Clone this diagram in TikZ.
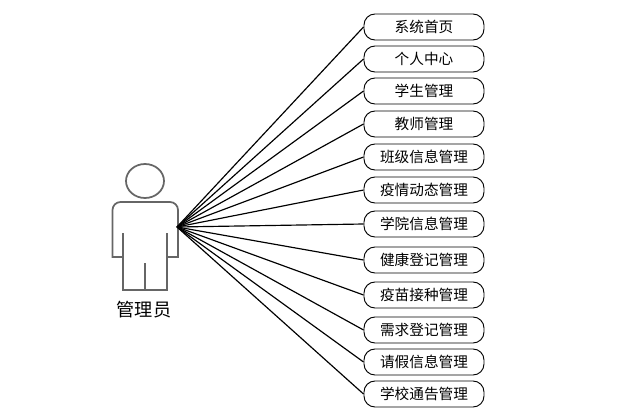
\documentclass[tikz,border=0pt]{standalone}
\usepackage{fontspec}
\setmainfont{Noto Sans CJK SC}
\usetikzlibrary{positioning}
\definecolor{actorgray}{HTML}{666666}
\tikzset{
    funcbox/.style={draw=black, thick, rounded corners=0.33cm, minimum width=3.6cm, minimum height=0.78cm, inner sep=0pt, font=\fontsize{12.5}{14}\selectfont},
    actorline/.style={draw=actorgray, line width=1.5pt},
    assocline/.style={draw=black, line width=1pt}
}

\begin{document}
\begin{tikzpicture}[x=0.03cm, y=-0.03cm]

            % Page frame
            \useasboundingbox (0,0) rectangle (644,419);

            % 1. Actor (Head and Body)
            \draw[actorline] (145,181) ellipse (19 and 17);
            \draw[actorline] (123,257) -- (112.5,257) [rounded corners=0.24cm] -- (112.5,202) -- (178,202) [sharp corners] -- (178,257) -- (167,257);
            \draw[actorline] (123,233) -- (123,290) -- (167,290) -- (167,233);
            \draw[actorline] (145,263) -- (145,290);
            \node[font=\fontsize{15.5}{18}\selectfont] (actorlabel) at (144,310) {管理员};
            \coordinate (actorhand) at (177,227);

            % 2. Function Boxes and Connectors
            \foreach \y/\name/\txt in {
                27/home/系统首页, 59/center/个人中心, 91/student/学生管理,
                124/teacher/教师管理, 157/classinfo/班级信息管理, 190/epidemic/疫情动态管理,
                224/college/学院信息管理, 260/health/健康登记管理, 295/vaccine/疫苗接种管理,
                330/demand/需求登记管理, 362/leave/请假信息管理, 394/notice/学校通告管理} {
                \node[funcbox] (\name) at (424,\y) {\txt};
                \draw[assocline] (actorhand) -- (\name.west);
            }

\end{tikzpicture}
\end{document}
